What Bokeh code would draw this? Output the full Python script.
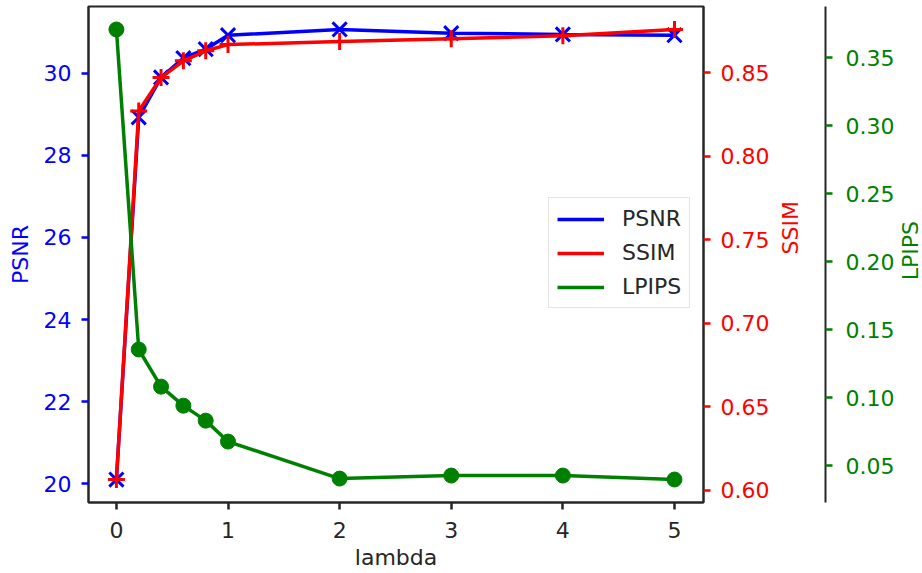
import math
from bokeh.plotting import figure
from bokeh.layouts import row
from bokeh.models import (Range1d, LinearAxis, FixedTicker, Legend, LegendItem,
                          ColumnDataSource)
from bokeh.core.properties import value
from bokeh.embed import file_html
from bokeh.resources import INLINE

# ---- data ----
lam = [0, 0.2, 0.4, 0.6, 0.8, 1, 2, 3, 4, 5]
psnr = [20.10, 28.93, 29.90, 30.37, 30.59, 30.93, 31.07, 30.98, 30.95, 30.93]
ssim = [0.6066, 0.827, 0.847, 0.857, 0.863, 0.8667, 0.8685, 0.8702, 0.8720, 0.8757]
lpips = [0.3706, 0.1353, 0.108, 0.094, 0.083, 0.0676, 0.0404, 0.0426, 0.0426, 0.0397]

x_ticks = [0, 1, 2, 3, 4, 5]
psnr_ticks = [20, 22, 24, 26, 28, 30]
ssim_ticks = [0.60, 0.65, 0.70, 0.75, 0.80, 0.85]
lpips_ticks = [0.05, 0.10, 0.15, 0.20, 0.25, 0.30, 0.35]

BLUE = "#0000ff"
RED = "#ff0000"
GREEN = "#008000"
DARK = "#262626"
FONT = "DejaVu Sans"
FS = "22px"

TITLE_W = 25  # narrow strip on the right holding the LPIPS axis title

src = ColumnDataSource(dict(x=lam, psnr=psnr, ssim=ssim, lpips=lpips))

p = figure(width=922 - TITLE_W, height=573, output_backend="svg",
           toolbar_location=None,
           x_range=Range1d(-0.25, 5.26), y_range=Range1d(19.54, 31.63),
           min_border_left=88, min_border_right=219 - TITLE_W, min_border_top=6,
           min_border_bottom=71)
p.extra_y_ranges = {"ssim": Range1d(0.5928, 0.8895),
                    "lpips": Range1d(0.0228, 0.3875)}

p.grid.visible = False
p.outline_line_color = DARK
p.outline_line_width = 2
p.background_fill_color = "white"
p.border_fill_color = "white"


def style_axis(ax, color, ticks, label):
    ax.ticker = FixedTicker(ticks=ticks)
    ax.axis_line_color = DARK
    ax.axis_line_width = 2
    ax.major_tick_line_color = color
    ax.major_tick_line_width = 2.5
    ax.major_tick_out = 7
    ax.major_tick_in = 0
    ax.minor_tick_line_color = None
    ax.major_label_text_color = color
    ax.major_label_text_font = FONT
    ax.major_label_text_font_size = FS
    ax.major_label_standoff = 10
    ax.axis_label = label
    ax.axis_label_text_color = color
    ax.axis_label_text_font = FONT
    ax.axis_label_text_font_size = FS
    ax.axis_label_text_font_style = "normal"
    ax.axis_label_standoff = 12


# x axis
xa = p.xaxis[0]
style_axis(xa, DARK, x_ticks, "lambda")
xa.major_label_standoff = 12
xa.axis_label_standoff = 4

# left PSNR axis
ya = p.yaxis[0]
style_axis(ya, BLUE, psnr_ticks, "PSNR")
ya.axis_label_standoff = 8

# right SSIM axis
ax_ssim = LinearAxis(y_range_name="ssim")
style_axis(ax_ssim, RED, ssim_ticks, "SSIM")
ax_ssim.major_label_overrides = {t: f"{t:.2f}" for t in ssim_ticks}
ax_ssim.axis_label_orientation = math.pi / 2
ax_ssim.axis_label_text_line_height = 0.6
ax_ssim.axis_label_standoff = 18
p.add_layout(ax_ssim, "right")

# spacer (offset spine for LPIPS)
spacer = LinearAxis(y_range_name="lpips", ticker=FixedTicker(ticks=[0.2]),
                    major_label_overrides={0.2: ""},
                    axis_line_color=None, major_tick_line_color=None,
                    minor_tick_line_color=None, major_tick_out=7,
                    major_tick_in=0, major_label_standoff=0)
p.add_layout(spacer, "right")

# LPIPS axis (title drawn in the strip figure)
ax_lp = LinearAxis(y_range_name="lpips")
style_axis(ax_lp, GREEN, lpips_ticks, None)
ax_lp.major_label_overrides = {t: f"{t:.2f}" for t in lpips_ticks}
ax_lp.major_label_standoff = 13
p.add_layout(ax_lp, "right")

LW = 3.5
r_psnr = p.line("x", "psnr", source=src, color=BLUE, line_width=LW)
p.scatter("x", "psnr", source=src, marker="x", size=20, line_color=BLUE,
          line_width=3)
r_ssim = p.line("x", "ssim", source=src, color=RED, line_width=LW,
                y_range_name="ssim")
p.scatter("x", "ssim", source=src, marker="cross", size=17, line_color=RED,
          line_width=3, y_range_name="ssim")
r_lp = p.line("x", "lpips", source=src, color=GREEN, line_width=LW,
              y_range_name="lpips")
p.scatter("x", "lpips", source=src, marker="circle", size=15, fill_color=GREEN,
          line_color=GREEN, y_range_name="lpips")

legend = Legend(items=[LegendItem(label="PSNR", renderers=[r_psnr]),
                       LegendItem(label="SSIM", renderers=[r_ssim]),
                       LegendItem(label="LPIPS", renderers=[r_lp])],
                location=(460, 194), orientation="vertical",
                label_text_font=FONT, label_text_font_size=FS,
                label_text_color=DARK, glyph_width=47, glyph_height=24,
                label_height=24, label_standoff=18, spacing=9, padding=8,
                margin=0, border_line_color="#cccccc", border_line_width=1.5,
                background_fill_color="white", background_fill_alpha=1.0)
p.add_layout(legend, "center")

# narrow strip carrying the LPIPS axis title, read bottom-to-top
t = figure(width=TITLE_W, height=573, output_backend="svg",
           toolbar_location=None, x_range=Range1d(0, TITLE_W),
           y_range=Range1d(0, 573), x_axis_type=None, y_axis_type=None,
           min_border=0)
t.grid.visible = False
t.outline_line_color = None
t.border_fill_color = "white"
t.background_fill_color = "white"
t.text(x=[12.5], y=[573 - 254 - 28], text=["LPIPS"], angle=math.pi / 2,
       text_align="center", text_baseline="middle", text_color=GREEN,
       text_font=value(FONT), text_font_size=value(FS))

layout = row(p, t, spacing=0)
open("out.html", "w").write(file_html(layout, INLINE))
